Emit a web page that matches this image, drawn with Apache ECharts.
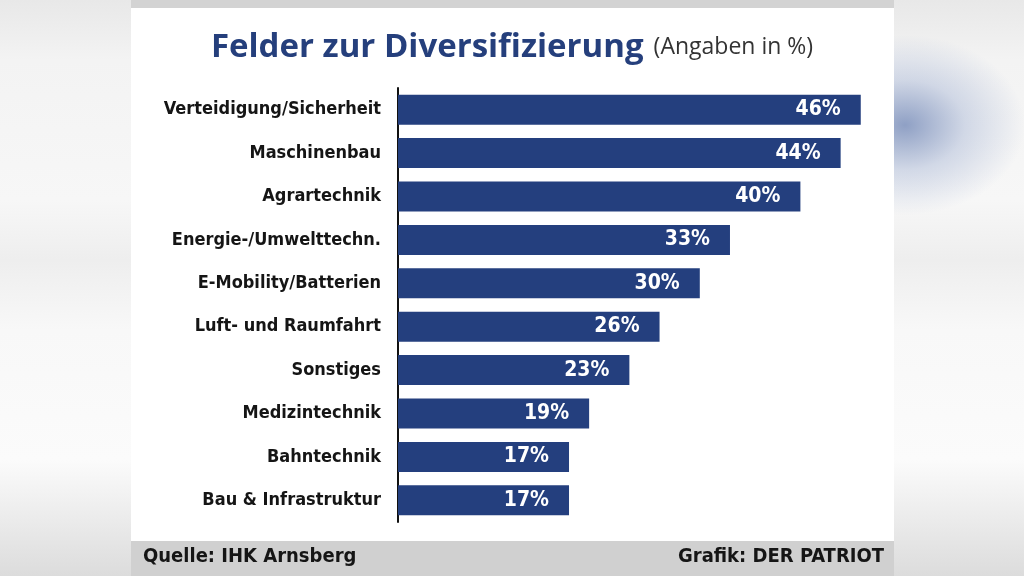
<!DOCTYPE html>
<html>
<head>
	<meta charset="utf-8">
	<title>Felder zur Diversifizierung</title>
	<script src="https://cdn.jsdelivr.net/npm/echarts@6/dist/echarts.min.js"></script>
	<style type="text/css">
		html, body {
			margin: 0;
			padding: 0;
			width: 1024px;
			height: 576px;
			overflow: hidden;
		}
		body {
			background:
				radial-gradient(ellipse 120px 90px at 905px 125px, rgba(125,145,188,0.85), rgba(165,180,212,0.45) 50%, rgba(255,255,255,0) 100%),
				linear-gradient(to bottom, #e8e8e8 0px, #f3f3f3 60px, #f7f7f7 200px, #eeeeee 260px, #f8f8f8 330px, #fbfbfb 460px, #dcdcdc 576px);
		}
		#panel {
			position: absolute;
			left: 131px;
			top: 8px;
			width: 763px;
			height: 533px;
			background-color: #ffffff;
		}
		#topStrip {
			position: absolute;
			left: 131px;
			top: 0;
			width: 763px;
			height: 8px;
			background-color: #d3d3d3;
		}
		#footer {
			position: absolute;
			left: 131px;
			top: 541px;
			width: 763px;
			height: 35px;
			background-color: #d0d0d0;
		}
		#chart {
			position: absolute;
			left: 0;
			top: 0;
			width: 1024px;
			height: 576px;
		}
	</style>
</head>
<body>
	<div id="topStrip"></div>
	<div id="panel"></div>
	<div id="footer"></div>
	<div id="chart"></div>
	<script type="text/javascript">
		var categories = ['Verteidigung/Sicherheit', 'Maschinenbau', 'Agrartechnik', 'Energie-/Umwelttechn.',
			'E-Mobility/Batterien', 'Luft- und Raumfahrt', 'Sonstiges', 'Medizintechnik', 'Bahntechnik', 'Bau & Infrastruktur'];
		var values = [46, 44, 40, 33, 30, 26, 23, 19, 17, 17];

		var narrow = '"DejaVu Sans Condensed", sans-serif';

		var myChart = echarts.init(document.getElementById('chart'));
		var option = {
			backgroundColor: 'transparent',
			animation: false,
			title: {
				left: 'center',
				top: 26,
				text: '{a|Felder zur Diversifizierung}  {b|(Angaben in %)}',
				textStyle: {
					rich: {
						a: { fontFamily: '"Open Sans", sans-serif', fontWeight: 'bold', fontSize: 33, color: '#253f7c' },
						b: { fontFamily: '"Open Sans", sans-serif', fontWeight: 'normal', fontSize: 23, color: '#333333' }
					}
				}
			},
			graphic: [
				{
					type: 'text', left: 143, top: 547,
					style: { text: 'Quelle: IHK Arnsberg', font: 'bold 20px ' + narrow, fill: '#151515' }
				},
				{
					type: 'text', right: 140, top: 547,
					style: { text: 'Grafik: DER PATRIOT', font: 'bold 20px ' + narrow, fill: '#151515' }
				}
			],
			grid: {
				left: 398,
				right: 123,
				top: 88,
				bottom: 54
			},
			xAxis: {
				type: 'value',
				min: 0,
				max: 50,
				show: false
			},
			yAxis: {
				type: 'category',
				inverse: true,
				data: categories,
				axisLine: { show: true, lineStyle: { color: '#111111', width: 2 } },
				axisTick: { show: false },
				axisLabel: {
					margin: 17,
					fontFamily: narrow,
					fontWeight: 'bold',
					fontSize: 18,
					color: '#151515'
				}
			},
			series: [
				{
					type: 'bar',
					data: values,
					barWidth: 30,
					itemStyle: { color: '#243f7e' },
					label: {
						show: true,
						position: 'insideRight',
						distance: 20,
						formatter: '{c}%',
						fontFamily: narrow,
						fontWeight: 'bold',
						fontSize: 21,
						color: '#ffffff'
					}
				}
			]
		};
		myChart.setOption(option);
	</script>
</body>
</html>
